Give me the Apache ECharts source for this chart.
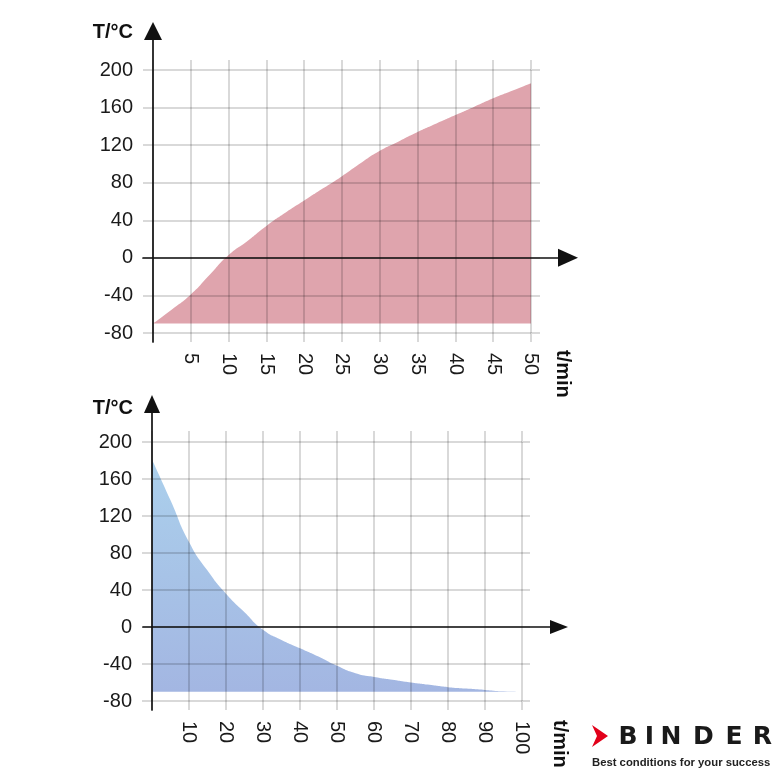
<!DOCTYPE html>
<html>
<head>
    <meta charset="utf-8">
    <script src="https://cdn.jsdelivr.net/npm/echarts@6/dist/echarts.min.js"></script>
</head>
<body style="margin: 0; background: #fff">
    <div id="main" style="width: 775px; height: 775px"></div>
    <script type="text/javascript">

        // heating curve, t/min -> T/°C
        var heatTime = [0, 2.5, 5, 7.5, 10, 12.5, 15, 17.5, 20, 22.5, 25, 27.5, 30, 32.5, 35, 37.5, 40, 42.5, 45, 47.5, 50];
        var heatTemp = [-70, -55, -39, -18, 3, 18, 34, 48, 61, 74, 87, 101, 114, 124, 134, 143, 152, 161, 170, 178, 186];

        // cooling curve
        var coolTime = [0, 5, 10, 15, 20, 25, 30, 35, 40, 45, 50, 55, 60, 65, 70, 75, 80, 85, 90, 95, 100];
        var coolTemp = [181, 137, 92, 61, 36, 16, -3, -14, -23, -32, -42, -50, -54, -57, -60, -62.5, -65, -66.5, -68, -69.5, -70];

        var tempMin = -80, tempMax = 200, tempStep = 40;
        var fillBase = -70;

        var gridColor = 'rgba(0, 0, 0, 0.15)';
        var gridWidth = 2;
        var font = 'Liberation Sans';

        // pixel boxes of the two plots
        var boxes = [
            { left: 153, top: 70, right: 531, bottom: 333, xMax: 50, xStep: 5, extR: 9, extT: 10, extB: 9,
              lineLeft: 143, lineRight: 568, lineTop: 31, lineBottom: 342, arrowX: [18, 20], arrowY: [18, 18] },
            { left: 152, top: 442, right: 522, bottom: 701, xMax: 100, xStep: 10, extR: 8, extT: 11, extB: 9,
              lineLeft: 143, lineRight: 559, lineTop: 404, lineBottom: 710, arrowX: [14, 18], arrowY: [16, 18] }
        ];

        function zip(a, b) {
            return a.map(function (v, i) { return [v, b[i]]; });
        }

        var grid = [], xAxis = [], yAxis = [];

        boxes.forEach(function (b, i) {
            var w = b.right - b.left, h = b.bottom - b.top;
            var xs = b.xMax / w, ys = (tempMax - tempMin) / h;
            var tickStyle = { color: gridColor, width: gridWidth };

            grid.push({ left: b.left, top: b.top, width: w, height: h });
            grid.push({ left: b.lineLeft, top: b.lineTop, width: b.lineRight - b.lineLeft, height: b.lineBottom - b.lineTop });

            xAxis.push({
                gridIndex: 2 * i, type: 'value', position: 'bottom', min: 0, max: b.xMax, interval: b.xStep, z: 3,
                axisLine: { show: false, onZero: false },
                axisTick: { length: b.extB, lineStyle: tickStyle },
                axisLabel: { rotate: -90, margin: 20, showMinLabel: false, color: '#1a1a1a', fontSize: 20, fontFamily: font },
                splitLine: { show: true, lineStyle: tickStyle }
            });
            xAxis.push({
                gridIndex: 2 * i, type: 'value', position: 'top', min: 0, max: b.xMax, interval: b.xStep, z: 3,
                axisLine: { show: false, onZero: false },
                axisTick: { length: b.extT, lineStyle: tickStyle },
                axisLabel: { show: false },
                splitLine: { show: false }
            });
            xAxis.push({
                gridIndex: 2 * i + 1, type: 'value', z: 5,
                min: (b.lineLeft - b.left) * xs, max: (b.lineRight - b.left) * xs,
                axisLine: { onZero: true, symbol: ['none', 'triangle'], symbolSize: b.arrowX, lineStyle: { color: '#111', width: 1.7 } },
                axisTick: { show: false }, axisLabel: { show: false }, splitLine: { show: false }
            });

            yAxis.push({
                gridIndex: 2 * i, type: 'value', position: 'left', min: tempMin, max: tempMax, interval: tempStep, z: 3,
                axisLine: { show: false, onZero: false },
                axisTick: { length: 10, lineStyle: tickStyle },
                axisLabel: { margin: 20, color: '#1a1a1a', fontSize: 20, fontFamily: font },
                splitLine: { show: true, lineStyle: tickStyle }
            });
            yAxis.push({
                gridIndex: 2 * i, type: 'value', position: 'right', min: tempMin, max: tempMax, interval: tempStep, z: 3,
                axisLine: { show: false, onZero: false },
                axisTick: { length: b.extR, lineStyle: tickStyle },
                axisLabel: { show: false },
                splitLine: { show: false }
            });
            yAxis.push({
                gridIndex: 2 * i + 1, type: 'value', z: 5,
                min: tempMin - (b.lineBottom - b.bottom) * ys, max: tempMax + (b.top - b.lineTop) * ys,
                axisLine: { onZero: true, symbol: ['none', 'triangle'], symbolSize: b.arrowY, lineStyle: { color: '#111', width: 1.7 } },
                axisTick: { show: false }, axisLabel: { show: false }, splitLine: { show: false }
            });
        });

        var series = [
            {
                type: 'line', xAxisIndex: 0, yAxisIndex: 0, z: 1, silent: true,
                data: zip(heatTime, heatTemp),
                smooth: 0.6, showSymbol: false,
                lineStyle: { width: 0 },
                areaStyle: { color: '#dfa4ad', opacity: 1, origin: fillBase }
            },
            {
                type: 'line', xAxisIndex: 3, yAxisIndex: 3, z: 1, silent: true,
                data: zip(coolTime, coolTemp),
                smooth: 0.6, showSymbol: false,
                lineStyle: { width: 0 },
                areaStyle: {
                    opacity: 1, origin: fillBase,
                    color: new echarts.graphic.LinearGradient(0, 0, 0, 1, [
                        { offset: 0, color: '#abd0ec' },
                        { offset: 1, color: '#a3b6e2' }
                    ])
                }
            }
        ];

        // axis names and the logo
        var graphic = [
            { type: 'text', x: 133, y: 32, style: { text: 'T/°C', align: 'right', verticalAlign: 'middle', font: 'bold 20px ' + font, fill: '#111' } },
            { type: 'text', x: 133, y: 408, style: { text: 'T/°C', align: 'right', verticalAlign: 'middle', font: 'bold 20px ' + font, fill: '#111' } },
            { type: 'text', x: 563, y: 350, rotation: -Math.PI / 2, style: { text: 't/min', align: 'left', verticalAlign: 'middle', font: 'bold 20px ' + font, fill: '#111' } },
            { type: 'text', x: 560, y: 720, rotation: -Math.PI / 2, style: { text: 't/min', align: 'left', verticalAlign: 'middle', font: 'bold 20px ' + font, fill: '#111' } },
            { type: 'polygon', shape: { points: [[592, 725], [608, 736], [592, 747], [597, 736]] }, style: { fill: '#e2001a' } },
            { type: 'text', x: 592, y: 763, style: { text: 'Best conditions for your success', align: 'left', verticalAlign: 'middle', font: 'bold 11.3px ' + font, fill: '#222' } }
        ];

        var logoLetters = ['B', 'I', 'N', 'D', 'E', 'R'];
        var logoX = [628, 649.5, 671, 703.5, 734, 762.5];
        logoLetters.forEach(function (c, i) {
            graphic.push({ type: 'text', x: logoX[i], y: 737.5, style: { text: c, align: 'center', verticalAlign: 'middle', font: '600 25px DejaVu Sans', fill: '#1a1a1a' } });
        });

        var myChart = echarts.init(document.getElementById('main'));
        myChart.setOption({
            animation: false,
            grid: grid,
            xAxis: xAxis,
            yAxis: yAxis,
            series: series,
            graphic: graphic
        });

    </script>
</body>
</html>
